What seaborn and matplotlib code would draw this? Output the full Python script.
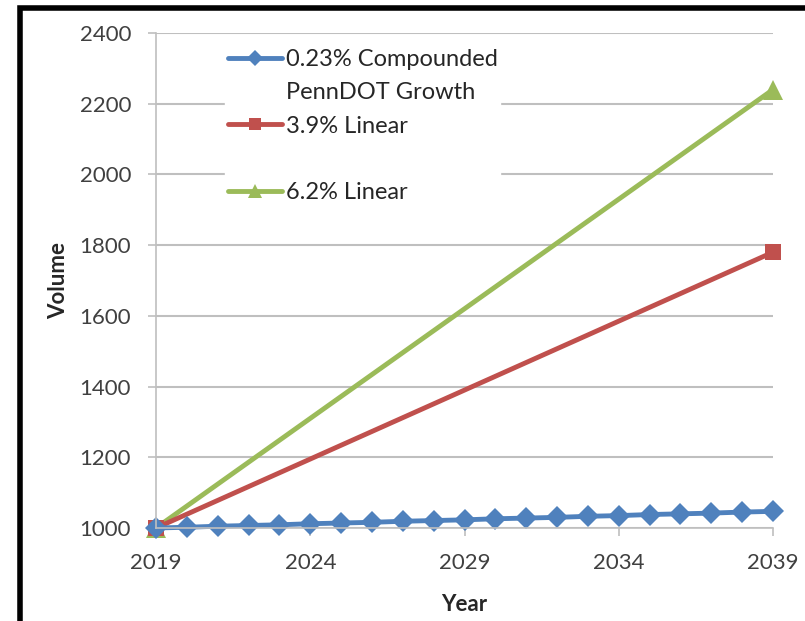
import numpy as np
import pandas as pd
import matplotlib
matplotlib.use("Agg")
import matplotlib.pyplot as plt
import seaborn as sns
from matplotlib.lines import Line2D
from matplotlib.patches import Rectangle

# data
years = list(range(2019, 2040))
compounded = [1000, 1002, 1005, 1007, 1009, 1012, 1014, 1016, 1019, 1021, 1023,
              1026, 1028, 1030, 1033, 1035, 1038, 1040, 1042, 1045, 1047]
linear_years = [2019, 2039]
linear_39 = [1000, 1780]
linear_62 = [1000, 2240]

blue = "#4F81BD"
red = "#C0504D"
green = "#9BBB59"
grid_col = "#BFBFBF"
text_col = "#404040"

sns.set_style("white")
plt.rcParams["font.family"] = ["Lato", "DejaVu Sans"]

fig = plt.figure(figsize=(8.05, 6.21), dpi=100)
ax = fig.add_axes([0.1938, 0.1498, 0.7665, 0.7971])

sns.lineplot(x=linear_years, y=linear_62, ax=ax, color=green, lw=3.5,
             marker="^", markersize=15, markeredgewidth=0, clip_on=False)
sns.lineplot(x=linear_years, y=linear_39, ax=ax, color=red, lw=3.5,
             marker="s", markersize=12, markeredgewidth=0, clip_on=False)
sns.lineplot(x=years, y=compounded, ax=ax, color=blue, lw=3.5,
             marker="D", markersize=11.5, markeredgewidth=0, clip_on=False)

ax.set_xlim(2019, 2039)
ax.set_ylim(1000, 2400)
ax.set_xticks([2019, 2024, 2029, 2034, 2039])
ax.set_yticks(range(1000, 2401, 200))
ax.yaxis.grid(True, color=grid_col, lw=1.5)
ax.set_axisbelow(True)
ax.tick_params(axis="both", labelsize=16, color=grid_col, labelcolor=text_col,
               length=6, width=1.2, direction="out", left=True, bottom=True)
ax.tick_params(axis="y", pad=12)
ax.tick_params(axis="x", pad=12)
for s in ["top", "right"]:
    ax.spines[s].set_visible(False)
for s in ["left", "bottom"]:
    ax.spines[s].set_color(grid_col)
    ax.spines[s].set_linewidth(1.2)

ax.set_xlabel("Year", fontsize=16, fontweight="bold", color="#262626", labelpad=15)
ax.set_ylabel("Volume", fontsize=16, fontweight="bold", color="#262626", labelpad=7.5)

handles = [
    Line2D([], [], color=blue, lw=3.5, marker="D", markersize=8, markeredgewidth=0),
    Line2D([], [], color="none"),
    Line2D([], [], color=red, lw=3.5, marker="s", markersize=9, markeredgewidth=0),
    Line2D([], [], color="none"),
    Line2D([], [], color=green, lw=3.5, marker="^", markersize=10, markeredgewidth=0),
]
labels = ["0.23% Compounded", "PennDOT Growth", "3.9% Linear", "", "6.2% Linear"]
leg = ax.legend(handles, labels, loc="upper left", bbox_to_anchor=(0.093, 0.996),
                frameon=True, framealpha=1, edgecolor="white", fontsize=17,
                handlelength=2.3, handletextpad=0.17, labelspacing=0.52,
                borderpad=0.1)
for t in leg.get_texts():
    t.set_color("#262626")

# outer black frame of the original image
fig.patches.append(Rectangle((0.025, -0.1), 1.2, 0.1 + 0.987, transform=fig.transFigure,
                             fill=False, edgecolor="black", lw=4, zorder=10))

fig.savefig("out.png", dpi=100)
